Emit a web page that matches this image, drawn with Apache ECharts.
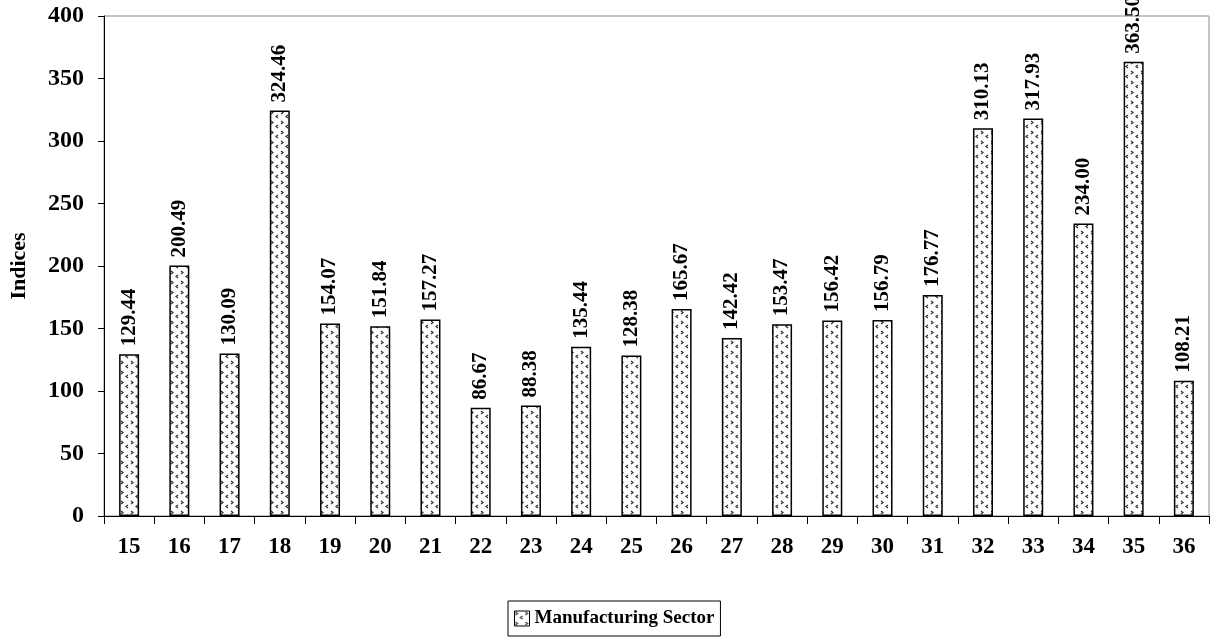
<!DOCTYPE html>
<html><head><meta charset="utf-8">
<script src="https://cdn.jsdelivr.net/npm/echarts@6/dist/echarts.min.js"></script>
<style>html,body{margin:0;padding:0;background:#fff}#c{width:1214px;height:640px}</style>
</head><body><div id="c"></div>
<script>
const categories = ['15','16','17','18','19','20','21','22','23','24','25','26','27','28','29','30','31','32','33','34','35','36'];
const values = [129.44,200.49,130.09,324.46,154.07,151.84,157.27,86.67,88.38,135.44,128.38,165.67,142.42,153.47,156.42,156.79,176.77,310.13,317.93,234.00,363.50,108.21];
const seriesName = 'Manufacturing Sector';

const pc = document.createElement('canvas');
pc.width = 10; pc.height = 10;
const g = pc.getContext('2d');
g.fillStyle = '#fff'; g.fillRect(0,0,10,10);
g.strokeStyle = '#333'; g.lineWidth = 1.2;
g.beginPath(); g.moveTo(1,1); g.lineTo(3,2.5); g.lineTo(1,4); g.stroke();
g.beginPath(); g.moveTo(8,5); g.lineTo(6,6.5); g.lineTo(8,8); g.stroke();

const font = '"Liberation Serif","Times New Roman",serif';
const chart = echarts.init(document.getElementById('c'));
chart.setOption({
  animation: false,
  grid: {left:104, right:5, top:16, bottom:124, show:true, borderColor:'#888', borderWidth:1, containLabel:false, outerBoundsMode:'none'},
  legend: {
    data:[{name:seriesName, icon:'rect'}], bottom:4, left:508,
    borderColor:'#000', borderWidth:1, padding:[8,6,8,6],
    itemWidth:15, itemHeight:15, itemGap:4,
    textStyle:{fontFamily:font, fontWeight:'bold', fontSize:19, color:'#000'},
    itemStyle:{borderColor:'#000', borderWidth:1}
  },
  xAxis: {
    type:'category', data:categories,
    axisLine:{lineStyle:{color:'#000'}},
    axisTick:{show:true, alignWithLabel:false, length:8, lineStyle:{color:'#000'}},
    axisLabel:{fontFamily:font, fontWeight:'bold', fontSize:23, color:'#000', margin:20}
  },
  yAxis: {
    type:'value', min:0, max:400, interval:50,
    name:'Indices', nameLocation:'middle', nameGap:74, nameRotate:90,
    nameTextStyle:{fontFamily:font, fontWeight:'bold', fontSize:22, color:'#000'},
    axisLine:{show:true, lineStyle:{color:'#000'}},
    axisTick:{show:true, length:6, lineStyle:{color:'#000'}},
    splitLine:{show:false},
    axisLabel:{fontFamily:font, fontWeight:'bold', fontSize:24, color:'#000', margin:20}
  },
  series: [{
    name: seriesName, type:'bar', data: values, barWidth:20,
    itemStyle:{color:{image:pc, repeat:'repeat'}, borderColor:'#000', borderWidth:1.5},
    label:{show:true, position:'top', rotate:90, align:'left', verticalAlign:'middle', distance:8,
      fontFamily:font, fontWeight:'bold', fontSize:21, color:'#000',
      formatter: p => p.value.toFixed(2)}
  }]
});
</script></body></html>
